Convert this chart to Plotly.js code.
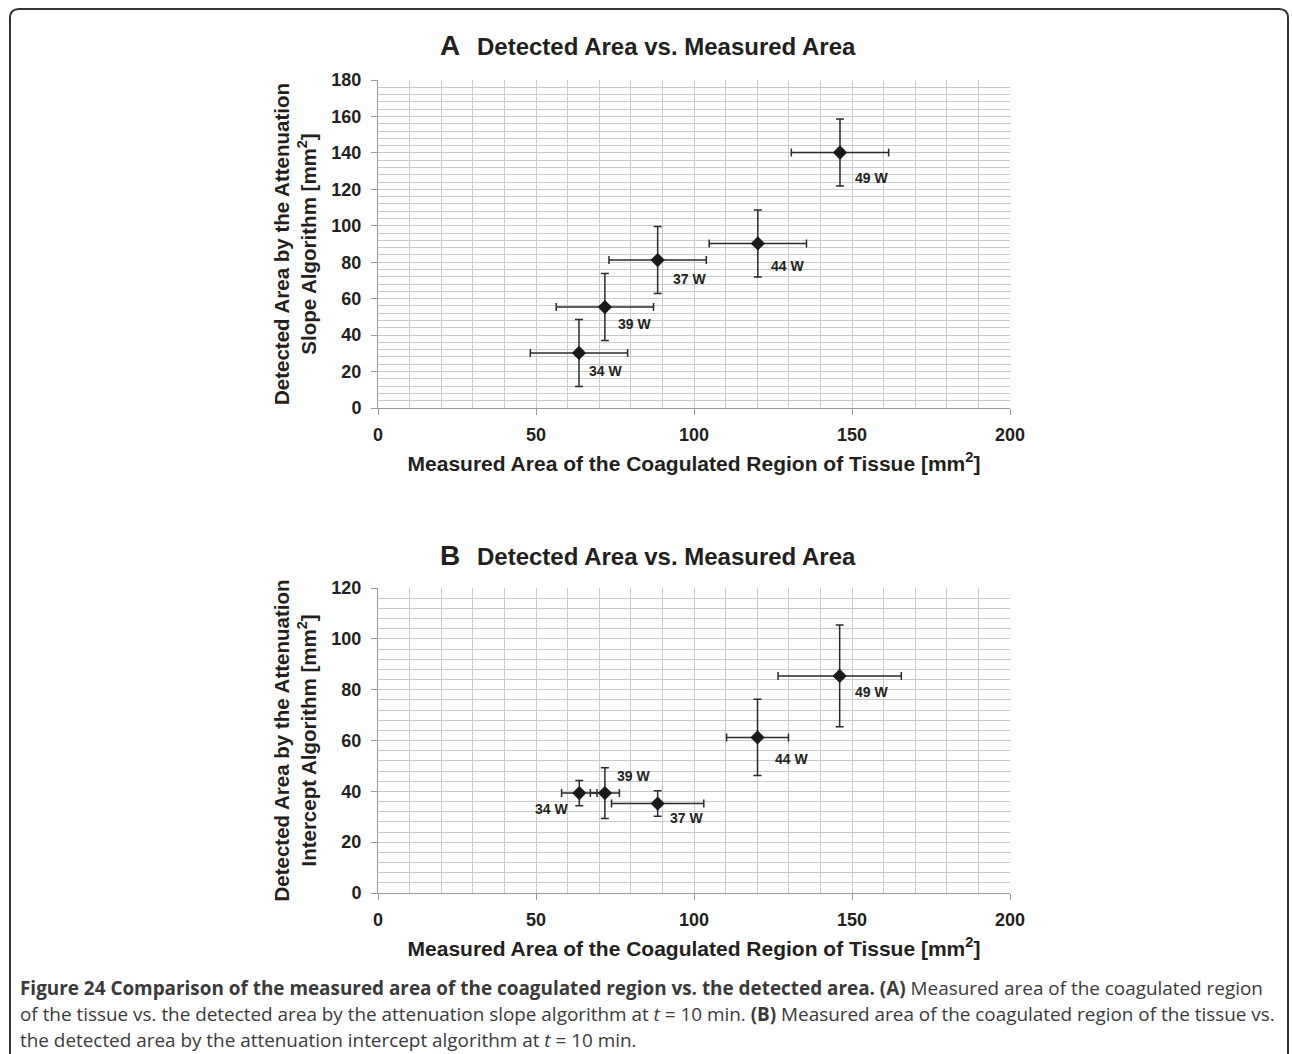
<!DOCTYPE html>
<html>
<head>
<meta charset="utf-8">
<script src="https://cdn.plot.ly/plotly-3.0.1.min.js"></script>
<style>html,body{margin:0;padding:0;background:#fff;}#chart{width:1292px;height:1054px;}</style>
</head>
<body>
<div id="chart"></div>
<script>
// ---- data ----
const powerLabels = ['34 W', '39 W', '37 W', '44 W', '49 W'];

const measuredA = [63.6, 71.8, 88.5, 120.2, 146.2];
const measuredErrA = [15.4, 15.4, 15.4, 15.4, 15.4];
const detectedSlope = [30.2, 55.4, 81.2, 90.3, 140.2];
const detectedSlopeErr = [18.4, 18.4, 18.4, 18.4, 18.4];

const measuredB = [63.7, 71.8, 88.5, 120.1, 146.1];
const measuredErrB = [5.6, 4.6, 14.6, 9.8, 19.5];
const detectedIntercept = [39.3, 39.3, 35.2, 61.2, 85.4];
const detectedInterceptErr = [5, 10, 5, 15, 20];

const xTicks = [0, 50, 100, 150, 200];
const yTicksA = [0, 20, 40, 60, 80, 100, 120, 140, 160, 180];
const yTicksB = [0, 20, 40, 60, 80, 100, 120];

// label offsets (pixels) for the point labels
const labelShiftA = [[27, -18], [30, -17], [32, -19], [30, -23], [32, -25]];
const labelShiftB = [[-28, -16], [29, 17], [29, -14], [34, -22], [32, -16]];

const W = 1292, H = 1054;
const px = v => v / W;
const py = v => 1 - v / H;

const FAM = 'Liberation Sans, Arial, Helvetica, sans-serif';
const tickFont = {family: FAM, size: 18, color: '#231f20'};
const xTitleFont = {family: FAM, size: 21, color: '#231f20'};
const yTitleFont = {family: FAM, size: 20.5, color: '#231f20'};
const gridColor = '#c9c9c9';
const bold = s => '<b>' + s + '</b>';

function makeTrace(xs, ys, ex, ey, xa, ya) {
  return {
    type: 'scatter', mode: 'markers', x: xs, y: ys, xaxis: xa, yaxis: ya,
    marker: {symbol: 'diamond', size: 11, color: '#1a1a1a'},
    error_x: {type: 'data', array: ex, visible: true, color: '#2a2a2a', thickness: 1.5, width: 4},
    error_y: {type: 'data', array: ey, visible: true, color: '#2a2a2a', thickness: 1.5, width: 4},
    showlegend: false, hoverinfo: 'x+y'
  };
}

function xAxis(domain, anchor) {
  return {
    domain: domain, anchor: anchor, range: [0, 200],
    tickvals: xTicks, ticktext: xTicks.map(v => bold(String(v))),
    ticks: 'outside', ticklen: 6, tickcolor: '#999', tickwidth: 1,
    showline: true, linecolor: '#999', linewidth: 1,
    showgrid: true, gridcolor: gridColor, gridwidth: 1,
    minor: {dtick: 10, tick0: 0, showgrid: true, gridcolor: gridColor, gridwidth: 1},
    zeroline: false, tickfont: tickFont, ticklabelstandoff: 4,
    title: {text: bold('Measured Area of the Coagulated Region of Tissue [mm<sup>2</sup>]'), font: xTitleFont, standoff: 12},
    automargin: false, fixedrange: true
  };
}

function yAxis(domain, anchor, maxV, ticks, title) {
  return {
    domain: domain, anchor: anchor, range: [0, maxV],
    tickvals: ticks, ticktext: ticks.map(v => bold(String(v))),
    ticks: 'outside', ticklen: 6, tickcolor: '#999', tickwidth: 1,
    showline: true, linecolor: '#999', linewidth: 1,
    showgrid: true, gridcolor: gridColor, gridwidth: 1,
    minor: {dtick: 4, tick0: 0, showgrid: true, gridcolor: gridColor, gridwidth: 1},
    zeroline: false, tickfont: tickFont, ticklabelstandoff: 6,
    title: {text: title, font: yTitleFont, standoff: 9},
    automargin: false, fixedrange: true
  };
}

const xDom = [px(378), px(1010)];
const yDomA = [py(408), py(80)];
const yDomB = [py(893), py(588)];

const data = [
  makeTrace(measuredA, detectedSlope, measuredErrA, detectedSlopeErr, 'x', 'y'),
  makeTrace(measuredB, detectedIntercept, measuredErrB, detectedInterceptErr, 'x2', 'y2')
];

const annotations = [];
const labelFont = {family: FAM, size: 14, color: '#231f20'};
powerLabels.forEach((t, i) => {
  annotations.push({xref: 'x', yref: 'y', x: measuredA[i], y: detectedSlope[i], text: bold(t), showarrow: false,
    xshift: labelShiftA[i][0], yshift: labelShiftA[i][1], font: labelFont});
  annotations.push({xref: 'x2', yref: 'y2', x: measuredB[i], y: detectedIntercept[i], text: bold(t), showarrow: false,
    xshift: labelShiftB[i][0], yshift: labelShiftB[i][1], font: labelFont});
});

// panel titles
const panelTitles = [['A', 45], ['B', 555]];
panelTitles.forEach(([letter, yc]) => {
  annotations.push({xref: 'paper', yref: 'paper', x: px(450), y: py(yc), xanchor: 'center', yanchor: 'middle',
    text: bold(letter), showarrow: false, font: {family: FAM, size: 28, color: '#231f20'}});
  annotations.push({xref: 'paper', yref: 'paper', x: px(475), y: py(yc + 1), xanchor: 'left', yanchor: 'middle',
    text: bold('Detected Area vs. Measured Area'), showarrow: false, font: {family: FAM, size: 24, color: '#231f20'}});
});

// caption
const captionLines = [
  '<b>Figure 24 Comparison of the measured area of the coagulated region vs. the detected area. (A)</b> Measured area of the coagulated region',
  'of the tissue vs. the detected area by the attenuation slope algorithm at <i>t</i> = 10 min. <b>(B)</b> Measured area of the coagulated region of the tissue vs.',
  'the detected area by the attenuation intercept algorithm at <i>t</i> = 10 min.'
];
const captionY = [988, 1014, 1040];
captionLines.forEach((t, i) => {
  annotations.push({xref: 'paper', yref: 'paper', x: px(18), y: py(captionY[i]), xanchor: 'left', yanchor: 'middle',
    text: t, showarrow: false, font: {family: 'Open Sans, sans-serif', size: 18.9, color: '#3a3a3a'}});
});

// rounded frame
const L = 10, T = 9, R = 1288, B = 1060, r = 9;
const framePath = `M ${px(L)},${py(B)} L ${px(L)},${py(T + r)} Q ${px(L)},${py(T)} ${px(L + r)},${py(T)} ` +
  `L ${px(R - r)},${py(T)} Q ${px(R)},${py(T)} ${px(R)},${py(T + r)} L ${px(R)},${py(B)}`;

const layout = {
  width: W, height: H,
  margin: {l: 0, r: 0, t: 0, b: 0},
  paper_bgcolor: '#ffffff', plot_bgcolor: '#ffffff',
  showlegend: false,
  xaxis: xAxis(xDom, 'y'),
  yaxis: yAxis(yDomA, 'x', 180, yTicksA, bold('Detected Area by the Attenuation<br>Slope Algorithm [mm<sup>2</sup>]')),
  xaxis2: xAxis(xDom, 'y2'),
  yaxis2: yAxis(yDomB, 'x2', 120, yTicksB, bold('Detected Area by the Attenuation<br>Intercept Algorithm [mm<sup>2</sup>]')),
  annotations: annotations,
  shapes: [{type: 'path', xref: 'paper', yref: 'paper', path: framePath, line: {color: '#333333', width: 2}}]
};

Plotly.newPlot('chart', data, layout, {displayModeBar: false, staticPlot: true});
</script>
</body>
</html>
